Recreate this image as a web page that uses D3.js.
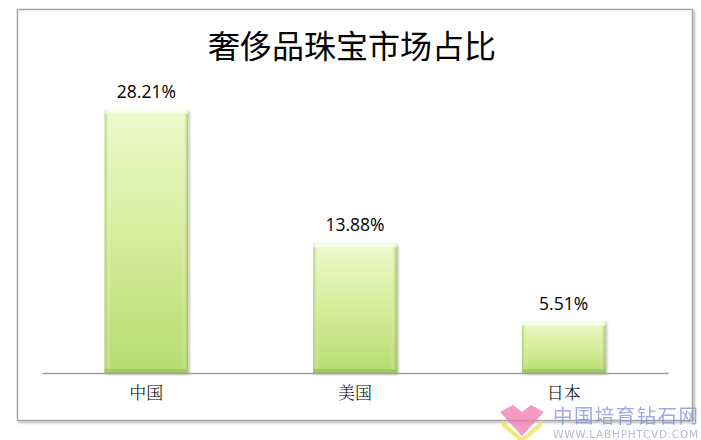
<!DOCTYPE html>
<html><head><meta charset="utf-8">
<script src="https://cdn.jsdelivr.net/npm/d3@7"></script>
<style>html,body{margin:0;padding:0;background:#fff;}svg{display:block;}</style>
</head><body>
<script>
const title = "奢侈品珠宝市场占比";
const categories = ["中国", "美国", "日本"];
const values = [28.21, 13.88, 5.51];
const valueLabels = ["28.21%", "13.88%", "5.51%"];
const yDomain = [0, 30];

const W = 701, H = 440;
const svg = d3.select("body").append("svg").attr("width", W).attr("height", H);
const defs = svg.append("defs");

const grad = defs.append("linearGradient").attr("id", "barGrad").attr("x1", 0).attr("y1", 0).attr("x2", 0).attr("y2", 1);
grad.append("stop").attr("offset", "0%").attr("stop-color", "#eff9cc");
grad.append("stop").attr("offset", "45%").attr("stop-color", "#d8ee9e");
grad.append("stop").attr("offset", "100%").attr("stop-color", "#b6dc72");
const edgeL = defs.append("linearGradient").attr("id", "edgeH").attr("x1", 0).attr("y1", 0).attr("x2", 1).attr("y2", 0);
edgeL.append("stop").attr("offset", "0%").attr("stop-color", "#a4cc5c").attr("stop-opacity", 0.8);
edgeL.append("stop").attr("offset", "7%").attr("stop-color", "#ffffff").attr("stop-opacity", 0.0);
edgeL.append("stop").attr("offset", "93%").attr("stop-color", "#ffffff").attr("stop-opacity", 0.0);
edgeL.append("stop").attr("offset", "100%").attr("stop-color", "#94bc48").attr("stop-opacity", 0.8);
const sh = defs.append("filter").attr("id", "shadow").attr("x", "-10%").attr("y", "-10%").attr("width", "130%").attr("height", "130%");
sh.append("feDropShadow").attr("dx", 1.5).attr("dy", 1.5).attr("stdDeviation", 1).attr("flood-color", "#000").attr("flood-opacity", 0.3);

// outer border
svg.append("rect").attr("x", 17.5).attr("y", 9.5).attr("width", 675).attr("height", 411)
  .attr("fill", "#fff").attr("stroke", "#a6a6a6").attr("stroke-width", 1.5).attr("filter", "url(#shadow)");

const margin = {left: 42, right: 33, top: 93, bottom: 67};
const x = d3.scaleBand().domain(categories).range([margin.left, W - margin.right]).paddingInner(0.6).paddingOuter(0.3);
const y = d3.scaleLinear().domain(yDomain).range([H - margin.bottom, margin.top]);

svg.append("text").attr("x", 352).attr("y", 58).attr("text-anchor", "middle")
  .attr("font-family", "'Noto Sans CJK SC', sans-serif").attr("font-size", 32).attr("fill", "#000").text(title);

const g = svg.append("g");
const bars = g.selectAll(".bar").data(categories).join("g");
bars.append("rect")
  .attr("x", d => x(d)).attr("y", (d, i) => y(values[i]))
  .attr("width", x.bandwidth()).attr("height", (d, i) => y(0) - y(values[i]))
  .attr("fill", "url(#barGrad)").attr("filter", "url(#shadow)");
bars.append("rect")
  .attr("x", d => x(d)).attr("y", (d, i) => y(values[i]))
  .attr("width", x.bandwidth()).attr("height", (d, i) => y(0) - y(values[i]))
  .attr("fill", "url(#edgeH)");
bars.append("rect")
  .attr("x", d => x(d)).attr("y", (d, i) => y(values[i]))
  .attr("width", x.bandwidth()).attr("height", 4).attr("fill", "#fbfff0").attr("opacity", 0.8);
bars.append("rect")
  .attr("x", d => x(d)).attr("y", (d, i) => y(0) - 4)
  .attr("width", x.bandwidth()).attr("height", 4).attr("fill", "#9cc654").attr("opacity", 0.8);

g.selectAll(".vl").data(categories).join("text")
  .attr("x", d => x(d) + x.bandwidth() / 2).attr("y", (d, i) => y(values[i]) - 12)
  .attr("text-anchor", "middle").attr("font-family", "'Open Sans', sans-serif")
  .attr("font-size", 17.5).attr("fill", "#000").text((d, i) => valueLabels[i]);

// x axis
const xAxis = svg.append("g").attr("transform", `translate(0,${y(0)})`)
  .call(d3.axisBottom(x).tickSize(0).tickPadding(14));
xAxis.select(".domain").attr("stroke", "#a0a0a0").attr("stroke-width", 1.5);
xAxis.selectAll("text").attr("font-family", "'Noto Serif CJK SC', 'Noto Sans CJK SC', serif")
  .attr("font-size", 17).attr("fill", "#000").attr("font-weight", 300);

// watermark
const wm = svg.append("g").attr("opacity", 0.75);
wm.append("path").attr("d", "M500,412 L513,405 L522,412 L531,405 L544,412 L522,436 Z").attr("fill", "#f07ab0");
wm.append("path").attr("d", "M502,420 L522,438 L542,420 L542,426 L522,443 L502,426 Z").attr("fill", "#f5e050");
wm.append("text").attr("x", 553).attr("y", 423).attr("font-family", "'Noto Sans CJK SC', sans-serif")
  .attr("font-size", 19.5).attr("fill", "#7d8fd6").attr("textLength", 145).text("中国培育钻石网");
wm.append("text").attr("x", 553).attr("y", 438).attr("font-family", "'DejaVu Sans', sans-serif")
  .attr("font-size", 10.5).attr("fill", "#9aa3c8").attr("textLength", 145).text("WWW.LABHPHTCVD.COM");
</script>
</body></html>
